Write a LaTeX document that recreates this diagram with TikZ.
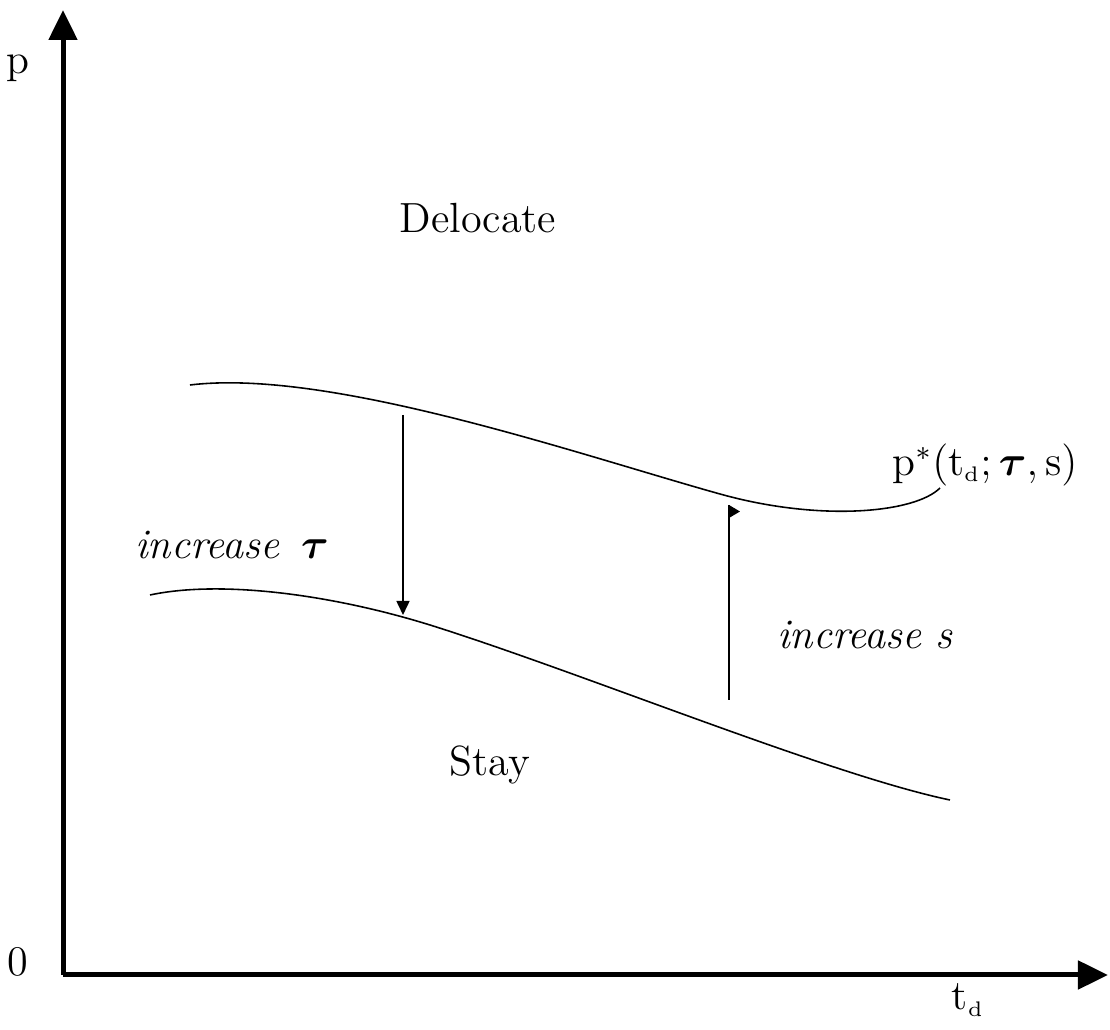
\documentclass[tikz,border=0pt]{standalone}
\usepackage{amsmath,amssymb}
\usepackage{fontspec}
\usepackage{tikz}
\usetikzlibrary{arrows.meta}

\begin{document}
\begin{tikzpicture}[
    font=\large,
    axis/.style={
        line width=0.05cm,
        -{Triangle[length=3mm,width=2.8mm]}
    },
    curve/.style={
        line width=0.45pt
    },
    shiftarrow/.style={
        line width=0.45pt,
        -{Triangle[length=1.4mm,width=1.3mm]}
    },
    region/.style={
        font=\large\addfontfeature{LetterSpace=20}
    },
    effect/.style={
        font=\large\itshape\addfontfeature{LetterSpace=12}
    }
]
\useasboundingbox (0,0) rectangle (11.1,10.3);

% =========================
% Axes
% =========================
\coordinate (O)    at (0.63,0.55);
\coordinate (ytop) at (0.63,10.20);
\coordinate (xend) at (11.08,0.55);

\draw[axis] (O) -- (ytop);
\draw[axis] (O) -- (xend);

\node (plab)  at (0.18,9.62) {p};
\node (zero)  at (0.18,0.68) {0};
\node (tdlab) at (9.68,0.30) {$\mathrm{t}_{\scriptscriptstyle\mathrm{d}}$};

% =========================
% Threshold curves
% =========================
\coordinate (upA) at (1.90,6.45);
\coordinate (upB) at (7.20,5.36);
\coordinate (upC) at (9.40,5.42);
\draw[curve] (upA) .. controls (3.3,6.62) and (5.8,5.75) .. (upB)
                   .. controls (8.2,5.08) and (9.15,5.17) .. (upC);

\coordinate (loA) at (1.50,4.35);
\coordinate (loB) at (4.30,4.05);
\coordinate (loC) at (9.50,2.30);
\draw[curve] (loA) .. controls (2.2,4.50) and (3.3,4.36) .. (loB)
                   .. controls (5.8,3.58) and (8.3,2.55) .. (loC);

\node (curvelab) at (9.85,5.65) {$\mathrm{p}^{*}(\mathrm{t}_{\scriptscriptstyle\mathrm{d}};\boldsymbol{\tau},\mathrm{s})$};

% =========================
% Regions
% =========================
\node[region] (deloc) at (4.78,8.12) {Delocate};
\node[region] (stay)  at (4.90,2.65) {Stay};

% =========================
% Comparative statics
% =========================
\coordinate (tautop) at (4.03,6.15);
\coordinate (taubot) at (4.03,4.15);
\draw[shiftarrow] (tautop) -- (taubot);
\node[effect] (inctau) at (2.32,4.85) {increase \,$\boldsymbol{\tau}$};

\coordinate (sbot) at (7.29,3.30);
\coordinate (stop) at (7.29,5.25);
\draw[curve] (sbot) -- (stop);
\fill (stop) -- ++(0.11,-0.065) -- ++(-0.11,-0.065) -- cycle;
\node[effect] (incs) at (8.65,3.95) {increase s};

\end{tikzpicture}
\end{document}
